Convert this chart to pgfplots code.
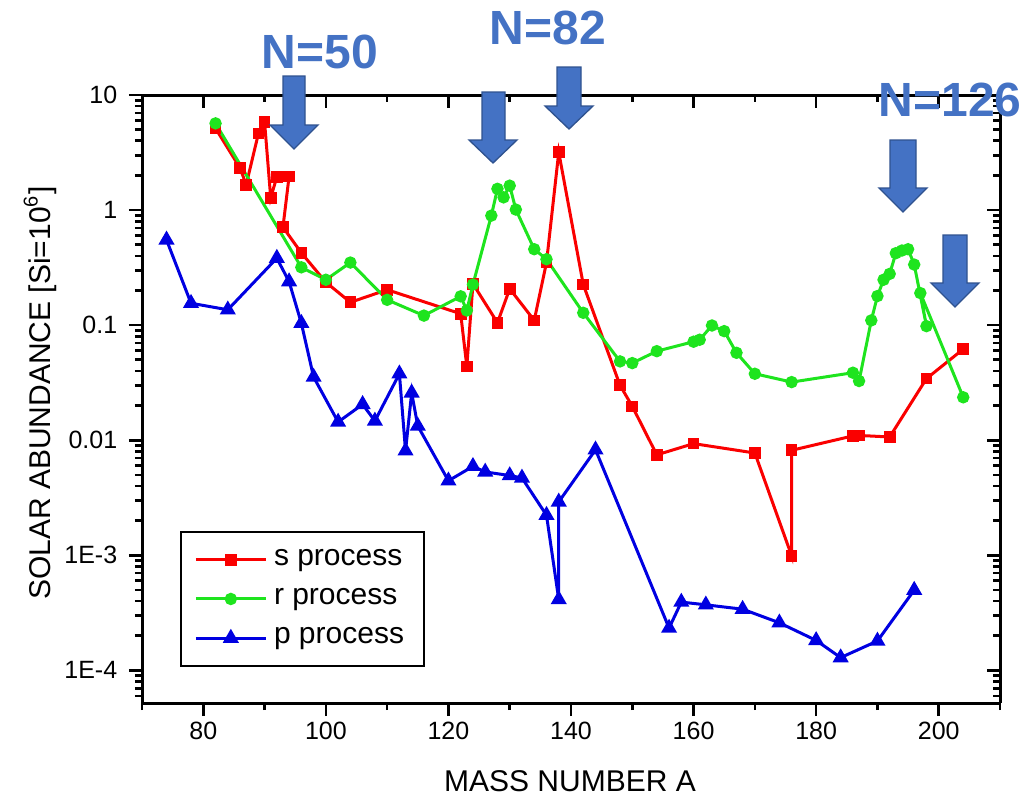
\documentclass[border=0pt]{standalone}
\usepackage{pgfplots}
\usepackage{pgfplotstable}
\pgfplotsset{compat=1.18}
\usepackage{fontspec}
\setmainfont{Liberation Sans}
\definecolor{sred}{RGB}{250,0,0}
\definecolor{rgreen}{RGB}{30,228,30}
\definecolor{pblue}{RGB}{0,0,225}
\definecolor{arrfill}{RGB}{68,114,196}
\definecolor{arrdraw}{RGB}{47,82,143}

\pgfplotstableread{
A v
82 5.13
86 2.32
87 1.66
89 4.64
90 5.83
91 1.28
92 1.94
93 nan
94 1.96
93 0.71
96 0.425
100 0.236
104 0.158
110 0.203
122 0.1256
123 0.0438
124 0.2286
128 0.105
130 0.207
134 0.110
136 0.35
138 3.18
142 0.2255
148 0.030
150 0.0197
154 0.00746
160 0.00934
170 0.00774
176 0.00099
176 0.00817
186 0.0109
187 0.0110
192 0.01067
198 0.0343
204 0.0619
}\sdata

\pgfplotstableread{
A v
82 5.67
96 0.318
100 0.248
104 0.35
110 0.166
116 0.121
122 0.178
123 0.134
124 0.2255
127 0.895
128 1.53
129 1.29
130 1.63
131 1.01
134 0.457
136 0.374
142 0.128
148 0.0484
150 0.0468
154 0.0594
160 0.0718
161 0.0747
163 0.0993
165 0.0887
167 0.0575
170 0.0378
176 0.032
186 0.0386
187 0.0327
189 0.110
190 0.179
191 0.248
192 0.279
193 0.422
194 0.445
195 0.457
196 0.336
198 0.098
197 0.190
204 0.0236
}\rdata

\pgfplotstableread{
A v
74 0.551
78 0.155
84 0.136
92 0.382
94 0.239
96 0.104
98 0.0354
102 0.0144
106 0.0205
108 0.0147
112 0.0378
113 0.00809
114 0.0258
115 0.0133
120 0.00444
124 0.00593
126 0.0053
130 0.00493
132 0.0047
136 0.00223
138 0.000413
138 0.00291
144 0.00826
156 0.000233
158 0.000392
162 0.000371
168 0.00034
174 0.000259
180 0.000182
184 0.000129
190 0.000180
196 0.000498
}\pdata

\begin{document}
\begin{tikzpicture}
\useasboundingbox (0,0) rectangle (307.5pt,239.1pt);

\begin{axis}[
  scale only axis, width=257.4pt, height=182.4pt,
  at={(42.6pt,28.2pt)}, anchor=south west,
  xmin=70, xmax=210, ymode=log, ymin=5.2e-5, ymax=10,
  xtick={80,100,...,200}, minor xtick={70,90,...,210},
  ytick={1e-4,1e-3,1e-2,1e-1,1,10},
  minor ytick={6e-5,7e-5,8e-5,9e-5,2e-4,3e-4,4e-4,5e-4,6e-4,7e-4,8e-4,9e-4,
    2e-3,3e-3,4e-3,5e-3,6e-3,7e-3,8e-3,9e-3,0.02,0.03,0.04,0.05,0.06,0.07,0.08,0.09,
    0.2,0.3,0.4,0.5,0.6,0.7,0.8,0.9,2,3,4,5,6,7,8,9},
  axis line style={line width=0.9pt, black},
  major tick style={line width=0.8pt, black},
  minor tick style={line width=0.8pt, black},
  major tick length=3.9pt, minor tick length=2.1pt,
  axis x line*=bottom, axis y line*=left, tick align=outside,
  /pgf/number format/assume math mode=true,
  xticklabel style={font=\fontsize{7.5}{9}\selectfont, yshift=1.8pt},
  yticklabel style={font=\fontsize{7.5}{9}\selectfont},
  yticklabels={1E-4,1E-3,0.01,0.1,1,10},
  unbounded coords=jump,
  legend style={at={(0.0443,0.0592)}, anchor=south west,
    draw=black, line width=0.6pt, inner xsep=4pt, inner ysep=3.2pt,
    font=\fontsize{9}{11}\selectfont, row sep=1.4pt},
  legend cell align=left,
  legend image code/.code={%
    \draw[mark repeat=2,mark phase=2,#1] plot coordinates {(0pt,0pt)(10.5pt,0pt)(21pt,0pt)};},
]
\addplot[sred, line width=0.9pt, mark=square*, mark size=1.3pt] table[x=A,y=v] {\sdata};
\addlegendentry{s process}
\addplot[rgreen, line width=0.9pt, mark=*, mark size=1.4pt] table[x=A,y=v] {\rdata};
\addlegendentry{r process}
\addplot[pblue, line width=0.9pt, mark=triangle*, mark size=1.9pt] table[x=A,y=v] {\pdata};
\addlegendentry{p process}
\end{axis}

\begin{axis}[
  scale only axis, width=257.4pt, height=182.4pt,
  at={(42.6pt,28.2pt)}, anchor=south west,
  xmin=70, xmax=210, ymode=log, ymin=5.2e-5, ymax=10,
  xtick={80,100,...,200}, minor xtick={70,90,...,210},
  ytick={1e-4,1e-3,1e-2,1e-1,1,10},
  minor ytick={6e-5,7e-5,8e-5,9e-5,2e-4,3e-4,4e-4,5e-4,6e-4,7e-4,8e-4,9e-4,
    2e-3,3e-3,4e-3,5e-3,6e-3,7e-3,8e-3,9e-3,0.02,0.03,0.04,0.05,0.06,0.07,0.08,0.09,
    0.2,0.3,0.4,0.5,0.6,0.7,0.8,0.9,2,3,4,5,6,7,8,9},
  axis line style={line width=0.9pt, black},
  major tick style={line width=0.8pt, black},
  minor tick style={line width=0.8pt, black},
  major tick length=3.9pt, minor tick length=2.1pt,
  axis x line*=top, axis y line*=right, tick align=inside,
  xticklabels={}, yticklabels={}]
\end{axis}

\begin{scope}[x=0.3pt, y=-0.3pt, shift={(0pt,239.1pt)}]
  \tikzset{barr/.style={fill=arrfill, draw=arrdraw, line width=0.4pt}}
  \path[barr] (283,76) -- (305,76) -- (305,125) -- (318,125) -- (294,149) -- (270,125) -- (283,125) -- cycle;
  \path[barr] (482,92) -- (505,92) -- (505,140) -- (517,140) -- (493,163) -- (469,140) -- (482,140) -- cycle;
  \path[barr] (557,67) -- (581,67) -- (581,106) -- (593,106) -- (569,129) -- (545,106) -- (557,106) -- cycle;
  \path[barr] (890,140) -- (916,140) -- (916,188) -- (927,188) -- (903,212) -- (879,188) -- (890,188) -- cycle;
  \path[barr] (943,235) -- (967,235) -- (967,283) -- (979,283) -- (955,307) -- (931,283) -- (943,283) -- cycle;
  \node[font=\bfseries\fontsize{14.4}{16}\selectfont, text=arrfill] at (320,52) {N=50};
  \node[font=\bfseries\fontsize{14.4}{16}\selectfont, text=arrfill] at (548,28) {N=82};
  \node[font=\bfseries\fontsize{14.4}{16}\selectfont, text=arrfill] at (950,100) {N=126};
  \node[font=\fontsize{9}{11}\selectfont] at (570,781) {MASS NUMBER A};
  \node[font=\fontsize{9}{11}\selectfont, rotate=90] at (40,393) {SOLAR ABUNDANCE [Si=10\textsuperscript{6}]};
\end{scope}
\end{tikzpicture}
\end{document}
